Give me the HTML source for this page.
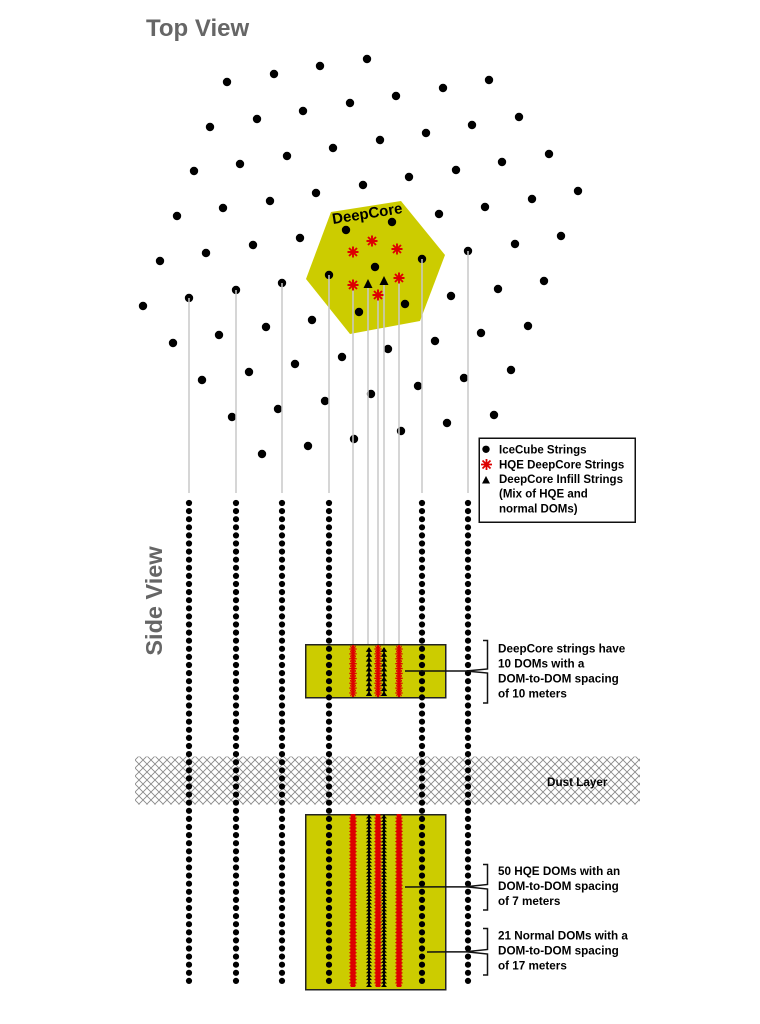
<!DOCTYPE html>
<html>
<head>
<meta charset="utf-8">
<style>
  html,body{margin:0;padding:0;background:#fff;}
  svg{display:block;}
  text{font-family:"Liberation Sans",Arial,sans-serif;font-weight:bold;}
</style>
</head>
<body>
<svg width="760" height="1024" viewBox="0 0 760 1024" xmlns="http://www.w3.org/2000/svg">
<defs>
  <pattern id="hatch" patternUnits="userSpaceOnUse" x="135" y="0" width="8" height="8">
    <path d="M0,0 L8,8 M8,0 L0,8" stroke="#8a8a8a" stroke-width="0.9" fill="none"/>
  </pattern>
  <pattern id="triU" patternUnits="userSpaceOnUse" x="0" y="0" width="8" height="4.9">
    <polygon points="4,0 7.2,4.9 0.8,4.9" fill="#000"/>
  </pattern>
  <pattern id="triL" patternUnits="userSpaceOnUse" x="0" y="0" width="8" height="3.44">
    <polygon points="4,0 7,3.44 1,3.44" fill="#000"/>
  </pattern>
</defs>

<!-- Titles -->
<text x="146" y="36" font-size="24" fill="#666">Top View</text>
<text transform="translate(162 601) rotate(-90)" text-anchor="middle" font-size="23.5" fill="#666">Side View</text>

<!-- DeepCore hexagon -->
<polygon points="331,212 401,201 445,255 420,321 350,334 306,279" fill="#cccc00"/>

<!-- Top view dots -->
<g fill="#000">
  <circle cx="367" cy="59" r="4.2"/><circle cx="320" cy="66" r="4.2"/><circle cx="274" cy="74" r="4.2"/><circle cx="227" cy="82" r="4.2"/>
  <circle cx="489" cy="80" r="4.2"/><circle cx="443" cy="88" r="4.2"/><circle cx="396" cy="96" r="4.2"/><circle cx="350" cy="103" r="4.2"/><circle cx="303" cy="111" r="4.2"/><circle cx="257" cy="119" r="4.2"/><circle cx="210" cy="127" r="4.2"/>
  <circle cx="519" cy="117" r="4.2"/><circle cx="472" cy="125" r="4.2"/><circle cx="426" cy="133" r="4.2"/><circle cx="380" cy="140" r="4.2"/><circle cx="333" cy="148" r="4.2"/><circle cx="287" cy="156" r="4.2"/><circle cx="240" cy="164" r="4.2"/><circle cx="194" cy="171" r="4.2"/>
  <circle cx="549" cy="154" r="4.2"/><circle cx="502" cy="162" r="4.2"/><circle cx="456" cy="170" r="4.2"/><circle cx="409" cy="177" r="4.2"/><circle cx="363" cy="185" r="4.2"/><circle cx="316" cy="193" r="4.2"/><circle cx="270" cy="201" r="4.2"/><circle cx="223" cy="208" r="4.2"/><circle cx="177" cy="216" r="4.2"/>
  <circle cx="578" cy="191" r="4.2"/><circle cx="532" cy="199" r="4.2"/><circle cx="485" cy="207" r="4.2"/><circle cx="439" cy="214" r="4.2"/><circle cx="392" cy="222" r="4.2"/><circle cx="346" cy="230" r="4.2"/><circle cx="300" cy="238" r="4.2"/><circle cx="253" cy="245" r="4.2"/><circle cx="206" cy="253" r="4.2"/><circle cx="160" cy="261" r="4.2"/>
  <circle cx="561" cy="236" r="4.2"/><circle cx="515" cy="244" r="4.2"/><circle cx="468" cy="251" r="4.2"/><circle cx="422" cy="259" r="4.2"/><circle cx="375" cy="267" r="4.2"/><circle cx="329" cy="275" r="4.2"/><circle cx="282" cy="283" r="4.2"/><circle cx="236" cy="290" r="4.2"/><circle cx="189" cy="298" r="4.2"/><circle cx="143" cy="306" r="4.2"/>
  <circle cx="544" cy="281" r="4.2"/><circle cx="498" cy="289" r="4.2"/><circle cx="451" cy="296" r="4.2"/><circle cx="405" cy="304" r="4.2"/><circle cx="359" cy="312" r="4.2"/><circle cx="312" cy="320" r="4.2"/><circle cx="266" cy="327" r="4.2"/><circle cx="219" cy="335" r="4.2"/><circle cx="173" cy="343" r="4.2"/>
  <circle cx="528" cy="326" r="4.2"/><circle cx="481" cy="333" r="4.2"/><circle cx="435" cy="341" r="4.2"/><circle cx="388" cy="349" r="4.2"/><circle cx="342" cy="357" r="4.2"/><circle cx="295" cy="364" r="4.2"/><circle cx="249" cy="372" r="4.2"/><circle cx="202" cy="380" r="4.2"/>
  <circle cx="511" cy="370" r="4.2"/><circle cx="464" cy="378" r="4.2"/><circle cx="418" cy="386" r="4.2"/><circle cx="371" cy="394" r="4.2"/><circle cx="325" cy="401" r="4.2"/><circle cx="278" cy="409" r="4.2"/><circle cx="232" cy="417" r="4.2"/>
  <circle cx="494" cy="415" r="4.2"/><circle cx="447" cy="423" r="4.2"/><circle cx="401" cy="431" r="4.2"/><circle cx="354" cy="439" r="4.2"/><circle cx="308" cy="446" r="4.2"/><circle cx="262" cy="454" r="4.2"/>
</g>

<text transform="translate(333 224) rotate(-9)" font-size="15" fill="#000">DeepCore</text>

<!-- Gray connector lines -->
<g stroke="#c8c8c8" stroke-width="1.5">
  <line x1="189" y1="298" x2="189" y2="493"/>
  <line x1="236" y1="290" x2="236" y2="493"/>
  <line x1="282" y1="283" x2="282" y2="493"/>
  <line x1="329" y1="275" x2="329" y2="493"/>
  <line x1="422" y1="259" x2="422" y2="493"/>
  <line x1="468" y1="251" x2="468" y2="493"/>
  <line x1="353" y1="285" x2="353" y2="645"/>
  <line x1="368" y1="284" x2="368" y2="645"/>
  <line x1="378" y1="295" x2="378" y2="645"/>
  <line x1="384" y1="281" x2="384" y2="645"/>
  <line x1="399" y1="278" x2="399" y2="645"/>
</g>

<!-- Top view HQE asterisks (drawn over lines) -->
<g stroke="#dd0000" stroke-width="1.9" fill="none">
  <path transform="translate(372 241)" d="M-5.5 0h11M0-5.5v11M-4-4l8 8M4-4l-8 8"/>
  <path transform="translate(353 252)" d="M-5.5 0h11M0-5.5v11M-4-4l8 8M4-4l-8 8"/>
  <path transform="translate(397 249)" d="M-5.5 0h11M0-5.5v11M-4-4l8 8M4-4l-8 8"/>
  <path transform="translate(353 285)" d="M-5.5 0h11M0-5.5v11M-4-4l8 8M4-4l-8 8"/>
  <path transform="translate(399 278)" d="M-5.5 0h11M0-5.5v11M-4-4l8 8M4-4l-8 8"/>
  <path transform="translate(378 295)" d="M-5.5 0h11M0-5.5v11M-4-4l8 8M4-4l-8 8"/>
</g>
<!-- Top view infill triangles -->
<g fill="#000">
  <polygon points="368,279 372.5,288 363.5,288"/>
  <polygon points="384,276 388.5,285 379.5,285"/>
</g>

<!-- Dust layer -->
<rect x="135" y="756.5" width="505" height="48" fill="url(#hatch)"/>
<text x="547" y="786" font-size="11.7" fill="#000">Dust Layer</text>

<!-- DeepCore boxes -->
<rect x="305.75" y="644.75" width="140" height="53" fill="#cccc00" stroke="#222" stroke-width="1.5"/>
<rect x="305.75" y="814.75" width="140" height="175" fill="#cccc00" stroke="#222" stroke-width="1.5"/>

<!-- Side view strings -->
<g stroke="#000" stroke-width="6.2" stroke-linecap="round" stroke-dasharray="0 8.1">
  <line x1="189" y1="503" x2="189" y2="982"/>
  <line x1="236" y1="503" x2="236" y2="982"/>
  <line x1="282" y1="503" x2="282" y2="982"/>
  <line x1="329" y1="503" x2="329" y2="982"/>
  <line x1="422" y1="503" x2="422" y2="982"/>
  <line x1="468" y1="503" x2="468" y2="982"/>
</g>

<!-- Upper box: HQE asterisk columns -->
<g stroke="#dd0000" fill="none">
  <line x1="353" y1="645" x2="353" y2="697" stroke-width="2.5"/>
  <line x1="353" y1="648.35" x2="353" y2="693.65" stroke-width="7.4" stroke-dasharray="1.3 3.589"/>
  <line transform="translate(353 0) skewY(45)" x1="0" y1="648.25" x2="0" y2="693.75" stroke-width="5.6" stroke-dasharray="1.5 3.389"/>
  <line transform="translate(353 0) skewY(-45)" x1="0" y1="648.25" x2="0" y2="693.75" stroke-width="5.6" stroke-dasharray="1.5 3.389"/>

  <line x1="378" y1="645" x2="378" y2="697" stroke-width="2.5"/>
  <line x1="378" y1="648.35" x2="378" y2="693.65" stroke-width="7.4" stroke-dasharray="1.3 3.589"/>
  <line transform="translate(378 0) skewY(45)" x1="0" y1="648.25" x2="0" y2="693.75" stroke-width="5.6" stroke-dasharray="1.5 3.389"/>
  <line transform="translate(378 0) skewY(-45)" x1="0" y1="648.25" x2="0" y2="693.75" stroke-width="5.6" stroke-dasharray="1.5 3.389"/>

  <line x1="399" y1="645" x2="399" y2="697" stroke-width="2.5"/>
  <line x1="399" y1="648.35" x2="399" y2="693.65" stroke-width="7.4" stroke-dasharray="1.3 3.589"/>
  <line transform="translate(399 0) skewY(45)" x1="0" y1="648.25" x2="0" y2="693.75" stroke-width="5.6" stroke-dasharray="1.5 3.389"/>
  <line transform="translate(399 0) skewY(-45)" x1="0" y1="648.25" x2="0" y2="693.75" stroke-width="5.6" stroke-dasharray="1.5 3.389"/>
</g>
<!-- Upper box: infill triangles -->
<rect x="368.2" y="648" width="1.6" height="48" fill="#000"/>
<rect x="383.2" y="648" width="1.6" height="48" fill="#000"/>
<rect transform="translate(365 647)" x="0" y="0" width="8" height="49" fill="url(#triU)"/>
<rect transform="translate(380 647)" x="0" y="0" width="8" height="49" fill="url(#triU)"/>

<!-- Lower box: HQE asterisk columns -->
<g stroke="#dd0000" fill="none">
  <line x1="353" y1="814" x2="353" y2="987" stroke-width="4.5"/>
  <line x1="353" y1="817.45" x2="353" y2="983.55" stroke-width="7.4" stroke-dasharray="1.1 2.267"/>
  <line transform="translate(353 0) skewY(45)" x1="0" y1="817.4" x2="0" y2="983.6" stroke-width="5.6" stroke-dasharray="1.2 2.167"/>
  <line transform="translate(353 0) skewY(-45)" x1="0" y1="817.4" x2="0" y2="983.6" stroke-width="5.6" stroke-dasharray="1.2 2.167"/>

  <line x1="378" y1="814" x2="378" y2="987" stroke-width="4.5"/>
  <line x1="378" y1="817.45" x2="378" y2="983.55" stroke-width="7.4" stroke-dasharray="1.1 2.267"/>
  <line transform="translate(378 0) skewY(45)" x1="0" y1="817.4" x2="0" y2="983.6" stroke-width="5.6" stroke-dasharray="1.2 2.167"/>
  <line transform="translate(378 0) skewY(-45)" x1="0" y1="817.4" x2="0" y2="983.6" stroke-width="5.6" stroke-dasharray="1.2 2.167"/>

  <line x1="399" y1="814" x2="399" y2="987" stroke-width="4.5"/>
  <line x1="399" y1="817.45" x2="399" y2="983.55" stroke-width="7.4" stroke-dasharray="1.1 2.267"/>
  <line transform="translate(399 0) skewY(45)" x1="0" y1="817.4" x2="0" y2="983.6" stroke-width="5.6" stroke-dasharray="1.2 2.167"/>
  <line transform="translate(399 0) skewY(-45)" x1="0" y1="817.4" x2="0" y2="983.6" stroke-width="5.6" stroke-dasharray="1.2 2.167"/>
</g>
<!-- Lower box: infill triangles -->
<rect x="368" y="815" width="2" height="172" fill="#000"/>
<rect x="383" y="815" width="2" height="172" fill="#000"/>
<rect transform="translate(365 815)" x="0" y="0" width="8" height="172" fill="url(#triL)"/>
<rect transform="translate(380 815)" x="0" y="0" width="8" height="172" fill="url(#triL)"/>

<!-- Brackets and pointers -->
<g stroke="#111" stroke-width="1.5" fill="none">
  <path d="M483,640.5 H487.5 V669 L466,671 M483,703 H487.5 V673 L466,671 M466,671 H405"/>
  <path d="M483,864.5 H487.5 V884.5 L466,886.7 M483,910 H487.5 V889 L466,886.7 M466,886.7 L405,887"/>
  <path d="M483,928.5 H487.5 V949.5 L466,951.7 M483,975 H487.5 V954 L466,951.7 M466,951.7 L427,952"/>
</g>

<!-- Right-side labels -->
<g font-size="11.7" fill="#000">
  <text x="498" y="652.5">DeepCore strings have</text>
  <text x="498" y="667.5">10 DOMs with a</text>
  <text x="498" y="682.5">DOM-to-DOM spacing</text>
  <text x="498" y="697.5">of 10 meters</text>

  <text x="498" y="875">50 HQE DOMs with an</text>
  <text x="498" y="890">DOM-to-DOM spacing</text>
  <text x="498" y="905">of 7 meters</text>

  <text x="498" y="939.3">21 Normal DOMs with a</text>
  <text x="498" y="954.3">DOM-to-DOM spacing</text>
  <text x="498" y="969.3">of 17 meters</text>
</g>

<!-- Legend -->
<rect x="479.25" y="438.25" width="156" height="84" fill="#fff" stroke="#111" stroke-width="1.5"/>
<circle cx="486" cy="449.3" r="3.7" fill="#000"/>
<path transform="translate(486.5 464.5)" d="M-5.5 0h11M0-5.5v11M-4-4l8 8M4-4l-8 8" stroke="#dd0000" stroke-width="1.8" fill="none"/>
<polygon points="486,476 490,483.5 482,483.5" fill="#000"/>
<g font-size="11.5" fill="#000">
  <text x="499" y="453.3">IceCube Strings</text>
  <text x="499" y="468.3">HQE DeepCore Strings</text>
  <text x="499" y="482.8">DeepCore Infill Strings</text>
  <text x="499" y="497.3">(Mix of HQE and</text>
  <text x="499" y="512.3">normal DOMs)</text>
</g>
</svg>
</body>
</html>
